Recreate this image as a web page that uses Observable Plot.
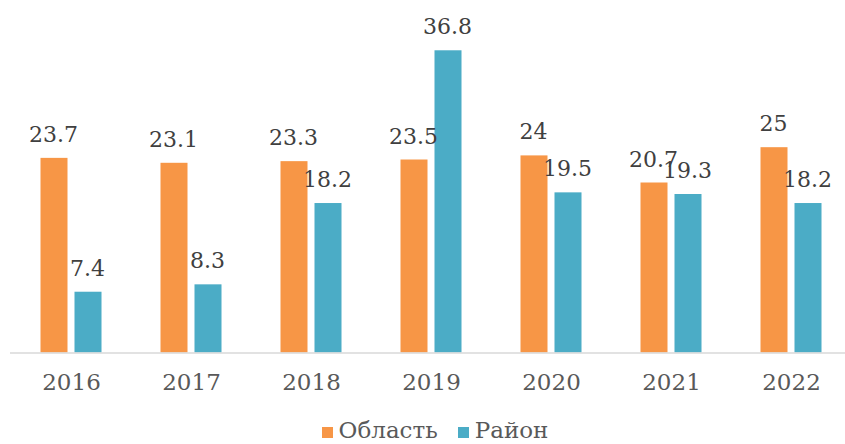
<!DOCTYPE html>
<html>
<head>
<meta charset="utf-8">
<script src="https://cdn.jsdelivr.net/npm/d3@7"></script>
<script src="https://cdn.jsdelivr.net/npm/@observablehq/plot@0.6"></script>
<style>
  body { margin: 0; background: #fff; }
  #chart { width: 845px; height: 444px; position: relative; font-family: "DejaVu Serif", serif; }
  .legend { position: absolute; top: 417px; left: 0; width: 845px; display: flex; justify-content: center; padding-left: 25px; box-sizing: border-box; font-size: 23px; line-height: 27px; color: #595959; font-family: "DejaVu Serif", serif; }
  .legend .item { display: flex; align-items: center; margin: 0 10px; }
  .legend .sw { width: 11px; height: 11px; margin-right: 6px; margin-top: 4px; }
</style>
</head>
<body>
<div id="chart"></div>
<script>
const years = ["2016", "2017", "2018", "2019", "2020", "2021", "2022"];
const series = ["Область", "Район"];
const oblast = [23.7, 23.1, 23.3, 23.5, 24, 20.7, 25];
const rayon = [7.4, 8.3, 18.2, 36.8, 19.5, 19.3, 18.2];
const colors = ["#F79646", "#4BACC6"];

const data = [];
years.forEach((y, i) => {
  data.push({year: y, series: series[0], value: oblast[i]});
  data.push({year: y, series: series[1], value: rayon[i]});
});
const offsets = {"Область": -17, "Район": 17};

const marks = [];
series.forEach((s, k) => {
  const d = data.filter(r => r.series === s);
  marks.push(Plot.barY(d, {x: "year", y: "value", fill: colors[k], insetLeft: 46.5, insetRight: 46.5, dx: offsets[s]}));
});
marks.push(Plot.ruleY([0], {stroke: "#d9d9d9", strokeWidth: 1.3}));
series.forEach((s, k) => {
  const d = data.filter(r => r.series === s);
  marks.push(Plot.text(d, {x: "year", y: "value", text: r => String(r.value), dx: offsets[s] - 1, dy: -16.5, lineAnchor: "bottom", fill: "#404040", fontSize: 22}));
});
marks.push(Plot.axisX({tickSize: 0, tickPadding: 21, fontSize: 23, fill: "#595959", label: null}));

const plot = Plot.plot({
  width: 845,
  height: 410,
  marginLeft: 10,
  marginRight: 0,
  marginTop: 24,
  marginBottom: 57.5,
  style: {fontFamily: "DejaVu Serif, serif", background: "white", overflow: "visible"},
  x: {domain: years, range: [10.5, 850.5], padding: 0, axis: null},
  y: {domain: [0, 40], axis: null},
  marks
});
const root = document.getElementById("chart");
root.appendChild(plot);

const legend = document.createElement("div");
legend.className = "legend";
series.forEach((s, k) => {
  const item = document.createElement("div");
  item.className = "item";
  const sw = document.createElement("span");
  sw.className = "sw";
  sw.style.background = colors[k];
  const t = document.createElement("span");
  t.textContent = s;
  item.appendChild(sw);
  item.appendChild(t);
  legend.appendChild(item);
});
root.appendChild(legend);
</script>
</body>
</html>
